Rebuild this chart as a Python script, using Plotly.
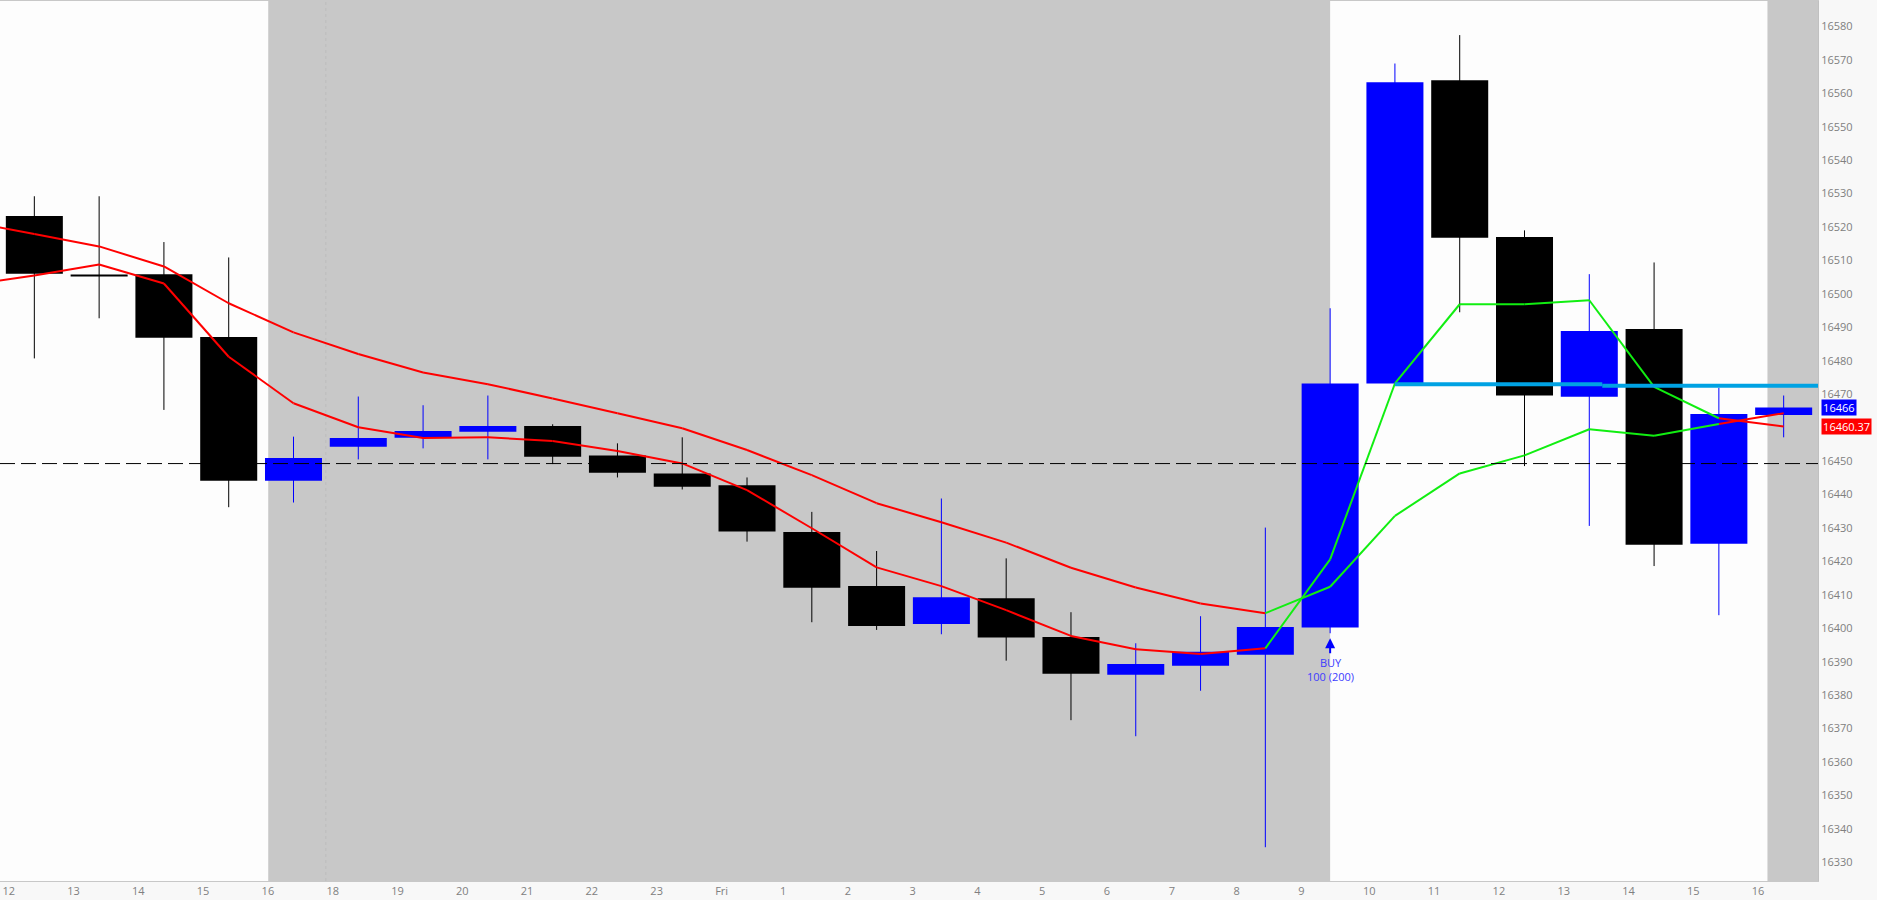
import plotly.graph_objects as go

# ---------------- data ----------------
hour_labels = ["12", "13", "14", "15", "16", "18", "19", "20", "21", "22", "23", "Fri",
               "1", "2", "3", "4", "5", "6", "7", "8", "9", "10", "11", "12", "13", "14", "15", "16"]

opens  = [16523.3, 16505.8, 16505.9, 16487.1, 16444.1, 16454.3, 16457.0, 16458.8, 16460.5, 16451.7,
          16446.3, 16442.8, 16428.8, 16412.6, 16401.3, 16409.0, 16397.4, 16386.1, 16388.8, 16392.1,
          16400.2, 16473.2, 16563.9, 16517.0, 16469.2, 16489.5, 16425.3, 16463.8]
highs  = [16529.2, 16529.2, 16515.5, 16510.9, 16457.3, 16469.3, 16466.7, 16469.6, 16461.0, 16455.3,
          16457.1, 16445.1, 16434.8, 16423.1, 16438.8, 16420.9, 16404.8, 16395.5, 16403.6, 16430.1,
          16495.7, 16568.9, 16577.4, 16519.0, 16505.9, 16509.4, 16471.9, 16469.6]
lows   = [16480.7, 16492.7, 16465.3, 16436.2, 16437.6, 16450.5, 16453.8, 16450.5, 16449.1, 16445.1,
          16441.5, 16425.9, 16401.8, 16399.5, 16398.2, 16390.3, 16372.5, 16367.7, 16381.3, 16334.5,
          16398.5, 16472.5, 16494.5, 16448.5, 16430.6, 16418.6, 16403.9, 16457.1]
closes = [16506.0, 16505.2, 16486.9, 16444.1, 16450.9, 16456.9, 16459.0, 16460.5, 16451.3, 16446.5,
          16442.3, 16428.9, 16412.1, 16400.7, 16409.3, 16397.2, 16386.4, 16389.3, 16393.0, 16400.4,
          16473.2, 16563.3, 16516.8, 16469.6, 16488.9, 16425.0, 16464.1, 16466.0]

# moving averages, starting one bar before the first visible bar
ma_fast = [16502.7, 16505.5, 16508.8, 16503.1, 16481.2, 16467.3, 16460.1, 16456.9, 16457.1, 16456.0,
           16453.0, 16449.3, 16441.3, 16429.9, 16418.2, 16412.6, 16405.4, 16397.7, 16393.7, 16392.3,
           16394.0, 16420.6, 16473.2, 16496.9, 16496.9, 16498.1, 16472.2, 16462.8, 16460.37]
ma_slow = [16521.6, 16517.9, 16514.2, 16508.2, 16497.2, 16488.5, 16482.0, 16476.5, 16473.0, 16468.7,
           16464.3, 16459.8, 16453.3, 16445.8, 16437.4, 16431.7, 16425.6, 16418.1, 16412.2, 16407.4,
           16404.5, 16412.4, 16433.6, 16446.3, 16451.7, 16459.5, 16457.6, 16461.1, 16464.3]

ref_level = 16449.25          # dashed horizontal line
position_levels = [16473.0, 16472.5]   # cyan position line (two pieces)
position_x = [21, 24.2, 27.6]
last_price = 16466
last_ma = 16460.37
buy_bar = 20
buy_marker_y = 16397
buy_text = "BUY<br>100 (200)"

# ---------------- figure ----------------
n = len(opens)
xs = list(range(n))
BLUE = "#0000ff"
BLACK = "#000000"
colors = [BLUE if c >= o else BLACK for o, c in zip(opens, closes)]

fig = go.Figure()

# candle bodies
fig.add_trace(go.Bar(
    x=xs,
    base=[min(o, c) for o, c in zip(opens, closes)],
    y=[max(abs(c - o), 0.5) for o, c in zip(opens, closes)],
    width=0.88,
    marker=dict(color=colors, line=dict(width=0)),
    hoverinfo="skip", showlegend=False,
))

# wicks
for col in (BLACK, BLUE):
    wx, wy = [], []
    for i in xs:
        if colors[i] == col:
            wx += [i, i, None]
            wy += [lows[i], highs[i], None]
    fig.add_trace(go.Scatter(x=wx, y=wy, mode="lines", line=dict(color=col, width=1),
                             hoverinfo="skip", showlegend=False))

# moving averages coloured per segment
ma_x = list(range(-1, n))
RED = "#ff0000"
GREEN = "#11ee11"
for ma in (ma_slow, ma_fast):
    for col in (RED, GREEN):
        sx, sy = [], []
        for k in range(len(ma_x) - 1):
            seg_green = ma_fast[k + 1] > ma_slow[k + 1]
            if (col == GREEN) == seg_green:
                sx += [ma_x[k], ma_x[k + 1], None]
                sy += [ma[k], ma[k + 1], None]
        fig.add_trace(go.Scatter(x=sx, y=sy, mode="lines", line=dict(color=col, width=2),
                                 hoverinfo="skip", showlegend=False))

# position line
px, py = [], []
for k, lvl in enumerate(position_levels):
    px += [position_x[k], position_x[k + 1], None]
    py += [lvl, lvl, None]
fig.add_trace(go.Scatter(x=px, y=py, mode="lines", line=dict(color="#00a2e3", width=4),
                         hoverinfo="skip", showlegend=False))

x_range = [-0.53, 27.53]

shapes = [
    dict(type="rect", xref="x", yref="paper", x0=3.61, x1=20.0, y0=0, y1=1,
         fillcolor="#c8c8c8", line=dict(width=0), layer="below"),
    dict(type="rect", xref="x", yref="paper", x0=26.75, x1=x_range[1], y0=0, y1=1,
         fillcolor="#c8c8c8", line=dict(width=0), layer="below"),
    dict(type="line", xref="x", yref="paper", x0=4.5, x1=4.5, y0=0, y1=1,
         line=dict(color="#bcbcbc", width=1, dash="3px,3px"), layer="below"),
    dict(type="line", xref="paper", yref="y", x0=0, x1=1, y0=ref_level, y1=ref_level,
         line=dict(color="#000000", width=1, dash="15px,6px")),
]

annotations = [
    dict(x=buy_bar, y=buy_marker_y, xref="x", yref="y", text=buy_text,
         showarrow=True, ax=0, ay=31, arrowhead=2, arrowsize=1, arrowwidth=2,
         arrowcolor=BLUE, standoff=0, startstandoff=0,
         font=dict(family="Open Sans", size=11, color="#3c3cff")),
    dict(x=1, y=last_price, xref="paper", yref="y", text="\u200a" + str(last_price) + "\u200a",
         showarrow=False, xanchor="left", xshift=3, bgcolor=BLUE, borderpad=0,
         font=dict(family="Open Sans", size=11, color="#ffffff")),
    dict(x=1, y=last_ma, xref="paper", yref="y", text="\u200a" + f"{last_ma:.2f}" + "\u200a",
         showarrow=False, xanchor="left", xshift=3, bgcolor=RED, borderpad=0,
         font=dict(family="Open Sans", size=11, color="#ffffff")),
]

fig.update_layout(
    width=1877, height=900,
    margin=dict(l=0, r=59, t=1, b=19),
    paper_bgcolor="#f8f8f8",
    plot_bgcolor="#fdfdfd",
    showlegend=False,
    shapes=shapes,
    annotations=annotations,
    font=dict(family="Open Sans", size=11, color="#808080"),
    xaxis=dict(range=x_range, tickvals=[i - 0.5 for i in xs], ticktext=hour_labels,
               ticklabelposition="outside right", ticks="", showgrid=False, zeroline=False,
               showline=True, linecolor="#c8c8c8", linewidth=1, mirror=True,
               tickfont=dict(family="Open Sans", size=11, color="#808080"), fixedrange=True),
    yaxis=dict(range=[16324.4, 16587.6], side="right", tickvals=list(range(16330, 16590, 10)),
               tickformat="d", ticks="", showgrid=False, zeroline=False, showline=True,
               linecolor="#c0c0c0", linewidth=1,
               tickfont=dict(family="Open Sans", size=11, color="#808080"),
               fixedrange=True),
)

fig.write_html(
    "out.html",
    config={"displayModeBar": False},
    post_script="document.body.style.margin='0';document.body.style.overflow='hidden';",
)
